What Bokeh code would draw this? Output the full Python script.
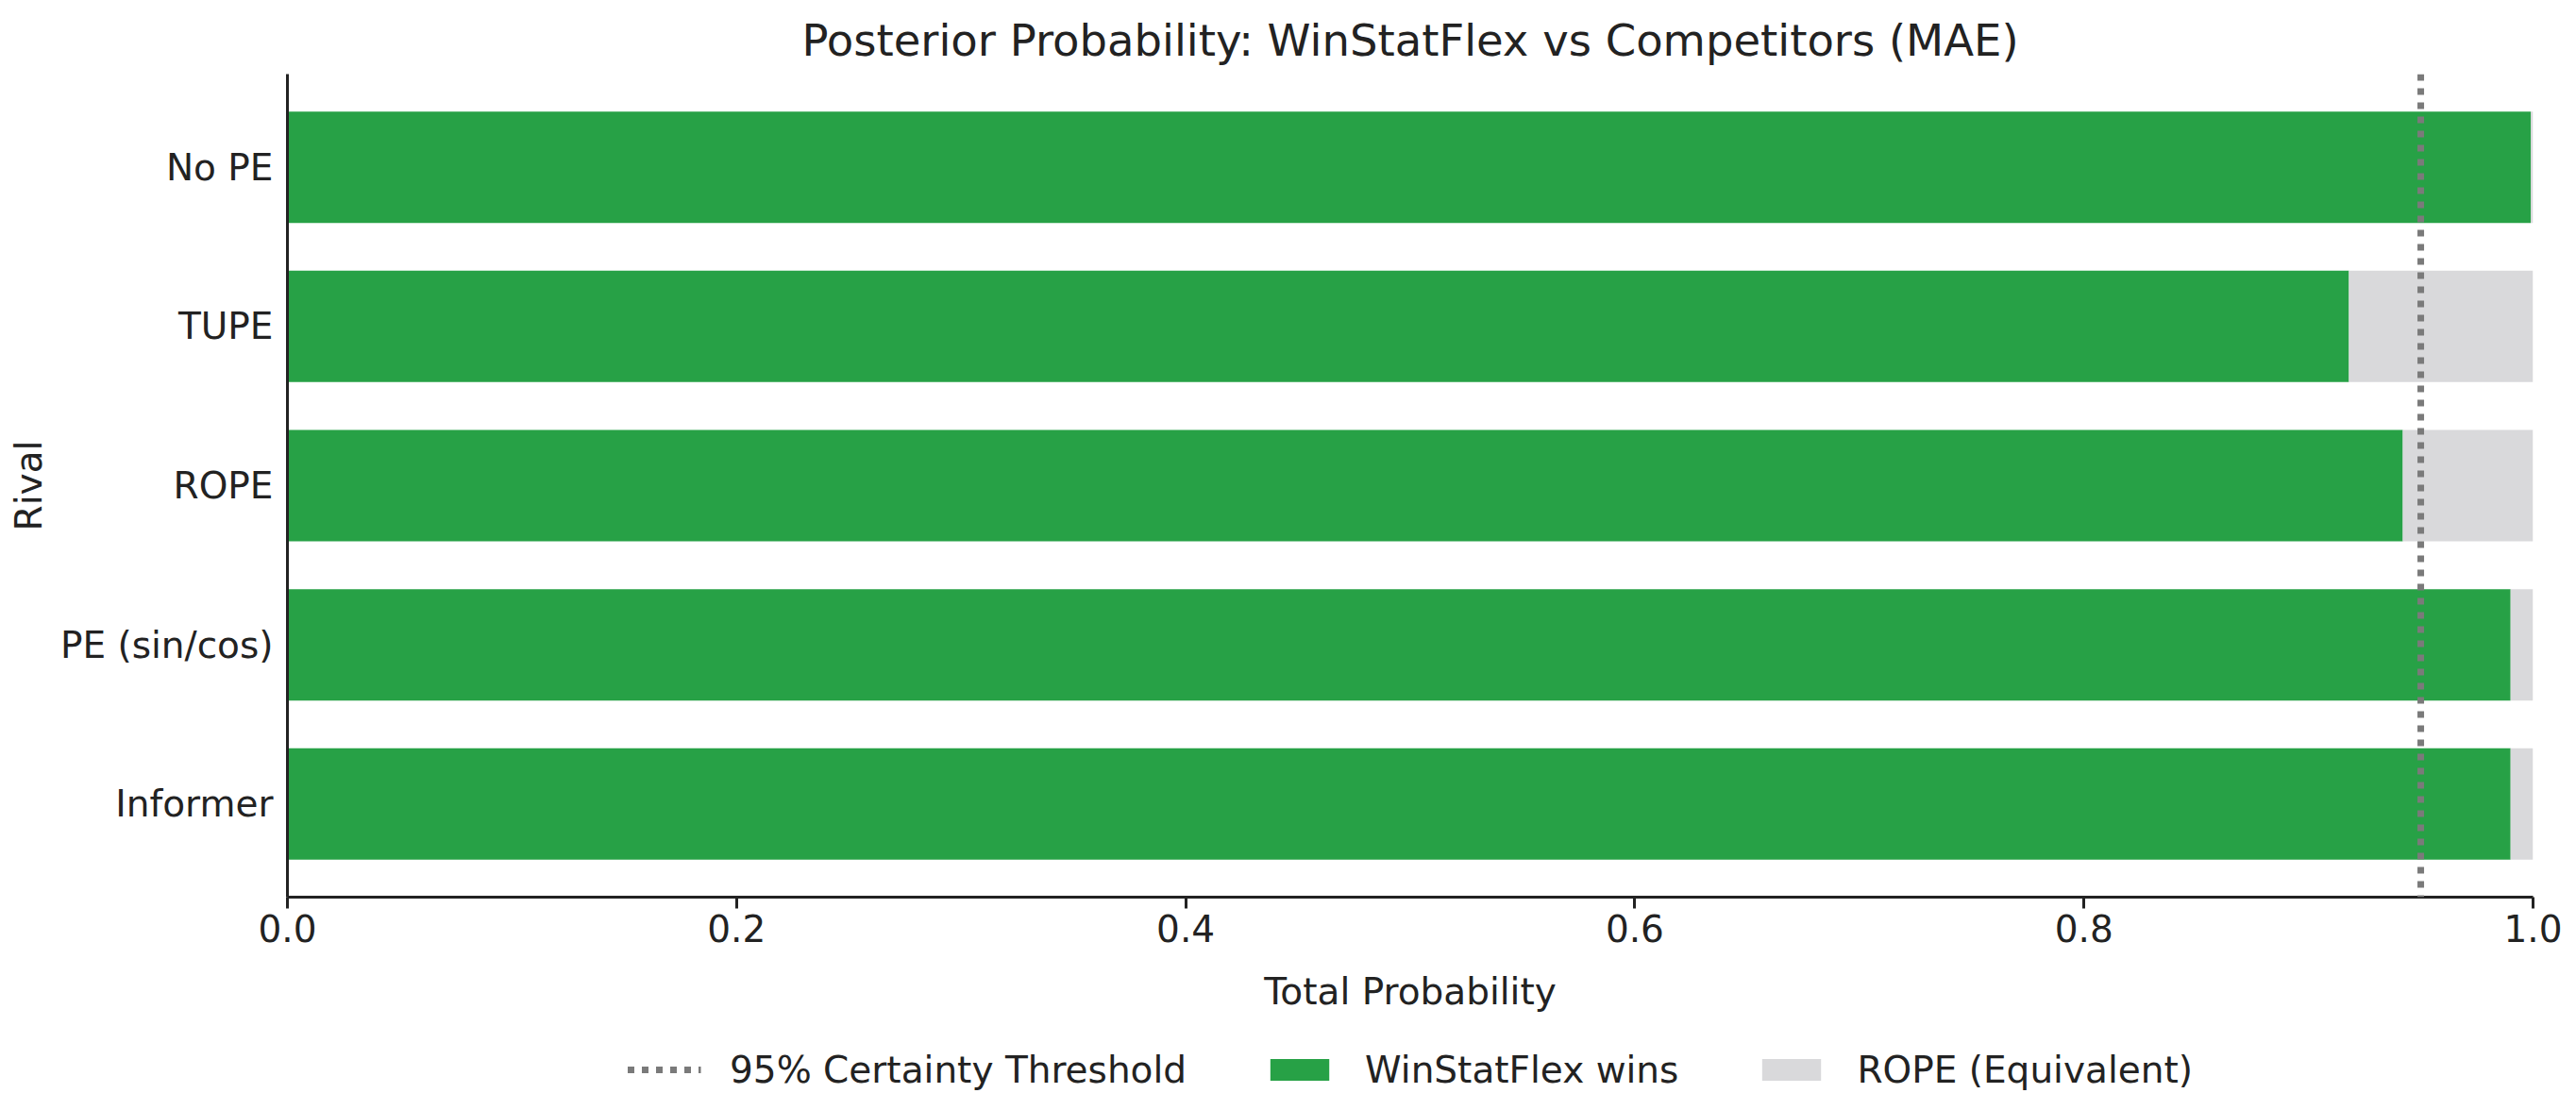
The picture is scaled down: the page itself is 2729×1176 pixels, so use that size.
from bokeh.plotting import figure
from bokeh.layouts import column
from bokeh.models import (Range1d, FactorRange, Span, Legend, LegendItem,
                          FixedTicker, PrintfTickFormatter, ColumnDataSource)
from bokeh.embed import file_html
from bokeh.resources import INLINE

# ---- data ----
RIVALS = ["No PE", "TUPE", "ROPE", "PE (sin/cos)", "Informer"]   # top to bottom
WIN = [0.999, 0.918, 0.942, 0.990, 0.990]
ROPE_EQ = [0.001, 0.082, 0.058, 0.010, 0.010]
THRESHOLD = 0.95
X_TICKS = [0.0, 0.2, 0.4, 0.6, 0.8, 1.0]

TITLE = "Posterior Probability: WinStatFlex vs Competitors (MAE)"
GREEN = "#27a146"
GREY = "#d9d9db"
LINE_GREY = "#7a7a7a"
TEXT = "#222222"
FONT = "DejaVu Sans"

factors = list(reversed(RIVALS))
src = ColumnDataSource(dict(
    rival=RIVALS,
    win=WIN,
    rope_end=[w + r for w, r in zip(WIN, ROPE_EQ)],
))

W = 2729
H_MAIN = 1090
H_LEG = 1176 - H_MAIN

p = figure(
    width=W, height=H_MAIN,
    x_range=Range1d(0, 1),
    y_range=FactorRange(factors=factors, range_padding=0.085,
                        range_padding_units="absolute"),
    output_backend="svg", toolbar_location=None,
    min_border_left=304, min_border_right=46,
    min_border_top=78, min_border_bottom=H_MAIN - 950,
)
p.outline_line_color = None
p.background_fill_color = "white"
p.border_fill_color = "white"

p.hbar(y="rival", left=0, right="win", height=0.7, source=src,
       fill_color=GREEN, line_color=None)
p.hbar(y="rival", left="win", right="rope_end", height=0.7, source=src,
       fill_color=GREY, line_color=None)

p.add_layout(Span(location=THRESHOLD, dimension="height", line_color=LINE_GREY,
                  line_width=7, line_dash="7 8"))

# title
p.title.text = TITLE
p.title.text_font = FONT
p.title.text_font_size = "46.5px"
p.title.text_font_style = "normal"
p.title.text_color = TEXT
p.title.align = "center"
p.title.standoff = 18

# axes
for ax in (p.xaxis[0], p.yaxis[0]):
    ax.axis_line_width = 3
    ax.axis_line_color = TEXT
    ax.major_label_text_font = FONT
    ax.major_label_text_font_size = "39px"
    ax.major_label_text_color = TEXT
    ax.axis_label_text_font = FONT
    ax.axis_label_text_font_size = "39px"
    ax.axis_label_text_font_style = "normal"
    ax.axis_label_text_color = TEXT
    ax.minor_tick_line_color = None

p.xaxis.ticker = FixedTicker(ticks=X_TICKS)
p.xaxis.formatter = PrintfTickFormatter(format="%.1f")
p.xaxis.major_tick_line_width = 3
p.xaxis.major_tick_line_color = TEXT
p.xaxis.major_tick_out = 12
p.xaxis.major_tick_in = 0
p.xaxis.major_label_standoff = 6
p.xaxis.axis_label = "Total Probability"
p.xaxis.axis_label_standoff = 27

p.yaxis.major_tick_line_color = None
p.yaxis.major_tick_out = 0
p.yaxis.major_tick_in = 0
p.yaxis.major_label_standoff = 15
p.yaxis.axis_label = "Rival"
p.yaxis.axis_label_standoff = 8

p.xgrid.grid_line_color = None
p.ygrid.grid_line_color = None

# ---- legend strip (own figure below the chart, sharing the bar data) ----
leg = figure(
    width=W, height=H_LEG,
    x_range=Range1d(2, 3), y_range=FactorRange(factors=factors),
    output_backend="svg", toolbar_location=None,
    x_axis_location=None, y_axis_location=None,
    min_border_left=304, min_border_right=46,
    min_border_top=0, min_border_bottom=0,
)
leg.outline_line_color = None
leg.xgrid.grid_line_color = None
leg.ygrid.grid_line_color = None
leg.background_fill_color = "white"
leg.border_fill_color = "white"

l_thr = leg.line(x=[THRESHOLD], y=[RIVALS[0]], line_color=LINE_GREY,
                 line_width=7, line_dash="7 8")
l_win = leg.hbar(y="rival", left=0, right="win", height=0.7, source=src,
                 fill_color=GREEN, line_color=None)
l_rope = leg.hbar(y="rival", left="win", right="rope_end", height=0.7, source=src,
                  fill_color=GREY, line_color=None)
l_win.visible = False
l_rope.visible = False

legend = Legend(items=[
    LegendItem(label="95% Certainty Threshold", renderers=[l_thr]),
    LegendItem(label="WinStatFlex wins", renderers=[l_win]),
    LegendItem(label="ROPE (Equivalent)", renderers=[l_rope]),
], orientation="horizontal", location="center")
legend.border_line_color = None
legend.background_fill_alpha = 0
legend.label_text_font = FONT
legend.label_text_font_size = "39px"
legend.label_text_color = TEXT
legend.glyph_width = 78
legend.glyph_height = 29
legend.label_standoff = 31
legend.spacing = 80
legend.padding = 0
legend.margin = 0
legend.label_height = 29
leg.add_layout(legend, "center")

layout = column(p, leg, spacing=0)
open("out.html", "w").write(file_html(layout, INLINE))
